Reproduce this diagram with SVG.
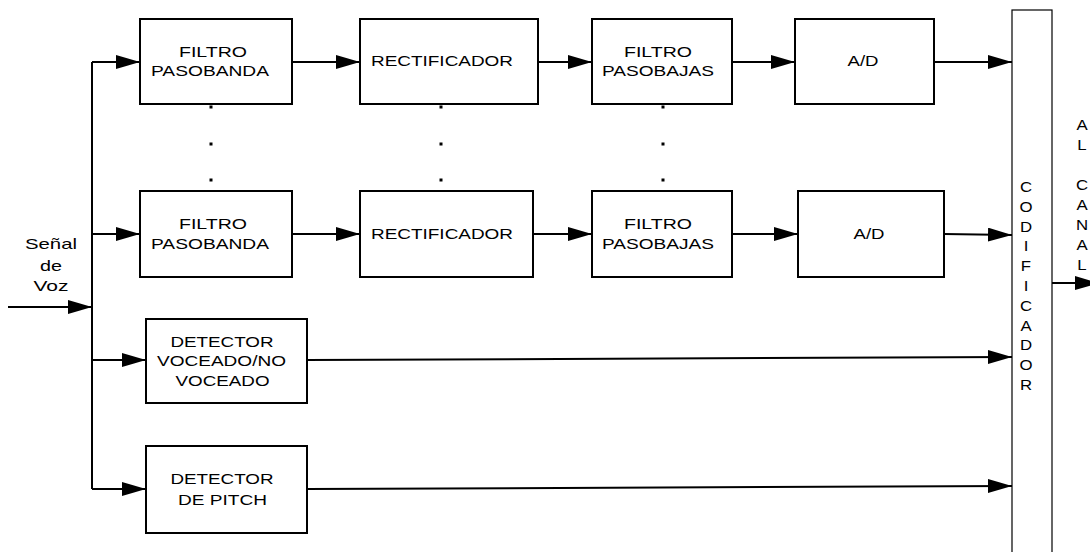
<svg xmlns="http://www.w3.org/2000/svg" width="1090" height="552" viewBox="0 0 1090 552">
  <style>
    .box { fill: #fff; stroke: #000; stroke-width: 2; }
    .thin { fill: #fff; stroke: #000; stroke-width: 1.2; }
    .wire { fill: none; stroke: #000; stroke-width: 2; }
    .lbl { font-family: "Liberation Sans", Arial, sans-serif; font-size: 15px; fill: #000; text-anchor: middle; }
    .vlbl { font-family: "Liberation Sans", Arial, sans-serif; font-size: 14px; fill: #000; text-anchor: middle; }
    .dot { fill: #000; }
  </style>
  <defs>
    <marker id="arrow" markerUnits="userSpaceOnUse" markerWidth="26" markerHeight="16" refX="24" refY="7" orient="auto">
      <polygon points="0,0 24,7 0,14" fill="#000"/>
    </marker>
  </defs>
  <rect width="1090" height="552" fill="#fff"/>

  <!-- connectors -->
  <g id="connectors" class="wire">
    <path d="M92 62 V489"/>
    <path d="M8 307 H92" marker-end="url(#arrow)"/>
    <path d="M92 62 H140" marker-end="url(#arrow)"/>
    <path d="M292 62 H360" marker-end="url(#arrow)"/>
    <path d="M538 62 H592" marker-end="url(#arrow)"/>
    <path d="M732 62 H795" marker-end="url(#arrow)"/>
    <path d="M934 62 H1012" marker-end="url(#arrow)"/>
    <path d="M92 234 H140" marker-end="url(#arrow)"/>
    <path d="M292 234 H360" marker-end="url(#arrow)"/>
    <path d="M533 234 H592" marker-end="url(#arrow)"/>
    <path d="M732 234 H798" marker-end="url(#arrow)"/>
    <path d="M944 234 L1012 235" marker-end="url(#arrow)"/>
    <path d="M92 360 H146" marker-end="url(#arrow)"/>
    <path d="M307 360 L1012 357" marker-end="url(#arrow)"/>
    <path d="M92 489 H146" marker-end="url(#arrow)"/>
    <path d="M307 489 L1012 486" marker-end="url(#arrow)"/>
    <path d="M1052 283 H1099" marker-end="url(#arrow)"/>
  </g>

  <!-- ellipsis between the two channel rows -->
  <g id="ellipsis" class="dot">
    <rect x="209.5" y="105.5" width="3" height="3"/>
    <rect x="209.5" y="142.5" width="3" height="3"/>
    <rect x="209.5" y="178.5" width="3" height="3"/>
    <rect x="439.5" y="105.5" width="3" height="3"/>
    <rect x="439.5" y="142.5" width="3" height="3"/>
    <rect x="439.5" y="178.5" width="3" height="3"/>
    <rect x="661.5" y="105.5" width="3" height="3"/>
    <rect x="661.5" y="142.5" width="3" height="3"/>
    <rect x="661.5" y="178.5" width="3" height="3"/>
  </g>

  <g id="input-label">
    <text class="lbl" x="51" y="249" textLength="52" lengthAdjust="spacingAndGlyphs">Señal</text>
    <text class="lbl" x="51" y="271" textLength="22" lengthAdjust="spacingAndGlyphs">de</text>
    <text class="lbl" x="51" y="291" textLength="35" lengthAdjust="spacingAndGlyphs">Voz</text>
  </g>

  <!-- first channel -->
  <g id="bpf1">
    <rect class="box" x="140" y="19" width="152" height="85"/>
    <text class="lbl" x="213" y="57" textLength="68" lengthAdjust="spacingAndGlyphs">FILTRO</text>
    <text class="lbl" x="210" y="76" textLength="118" lengthAdjust="spacingAndGlyphs">PASOBANDA</text>
  </g>
  <g id="rect1">
    <rect class="box" x="360" y="19" width="178" height="85"/>
    <text class="lbl" x="442" y="66" textLength="142" lengthAdjust="spacingAndGlyphs">RECTIFICADOR</text>
  </g>
  <g id="lpf1">
    <rect class="box" x="592" y="19" width="140" height="85"/>
    <text class="lbl" x="658" y="57" textLength="68" lengthAdjust="spacingAndGlyphs">FILTRO</text>
    <text class="lbl" x="658" y="76" textLength="112" lengthAdjust="spacingAndGlyphs">PASOBAJAS</text>
  </g>
  <g id="adc1">
    <rect class="box" x="795" y="19" width="139" height="85"/>
    <text class="lbl" x="863" y="66" textLength="31" lengthAdjust="spacingAndGlyphs">A/D</text>
  </g>

  <!-- last channel -->
  <g id="bpfN">
    <rect class="box" x="140" y="191" width="152" height="86"/>
    <text class="lbl" x="213" y="229" textLength="68" lengthAdjust="spacingAndGlyphs">FILTRO</text>
    <text class="lbl" x="210" y="249" textLength="118" lengthAdjust="spacingAndGlyphs">PASOBANDA</text>
  </g>
  <g id="rectN">
    <rect class="box" x="360" y="191" width="173" height="86"/>
    <text class="lbl" x="442" y="239" textLength="142" lengthAdjust="spacingAndGlyphs">RECTIFICADOR</text>
  </g>
  <g id="lpfN">
    <rect class="box" x="592" y="191" width="140" height="86"/>
    <text class="lbl" x="658" y="229" textLength="68" lengthAdjust="spacingAndGlyphs">FILTRO</text>
    <text class="lbl" x="658" y="249" textLength="112" lengthAdjust="spacingAndGlyphs">PASOBAJAS</text>
  </g>
  <g id="adcN">
    <rect class="box" x="798" y="191" width="146" height="86"/>
    <text class="lbl" x="869" y="239" textLength="31" lengthAdjust="spacingAndGlyphs">A/D</text>
  </g>

  <!-- excitation detectors -->
  <g id="voicing">
    <rect class="box" x="146" y="319" width="161" height="84"/>
    <text class="lbl" x="222" y="347" textLength="103" lengthAdjust="spacingAndGlyphs">DETECTOR</text>
    <text class="lbl" x="221.5" y="366" textLength="129" lengthAdjust="spacingAndGlyphs">VOCEADO/NO</text>
    <text class="lbl" x="222.5" y="386" textLength="94" lengthAdjust="spacingAndGlyphs">VOCEADO</text>
  </g>
  <g id="pitch">
    <rect class="box" x="146" y="446" width="161" height="87"/>
    <text class="lbl" x="222" y="484" textLength="103" lengthAdjust="spacingAndGlyphs">DETECTOR</text>
    <text class="lbl" x="222.5" y="505" textLength="89" lengthAdjust="spacingAndGlyphs">DE PITCH</text>
  </g>

  <!-- encoder column -->
  <g id="encoder">
    <rect class="thin" x="1012" y="10" width="40" height="560"/>
    <g transform="translate(1026 0) scale(1.2 1)">
      <text class="vlbl" x="0" y="192">C<tspan x="0" dy="19.8">O</tspan><tspan x="0" dy="19.8">D</tspan><tspan x="0" dy="19.8">I</tspan><tspan x="0" dy="19.8">F</tspan><tspan x="0" dy="19.8">I</tspan><tspan x="0" dy="19.8">C</tspan><tspan x="0" dy="19.8">A</tspan><tspan x="0" dy="19.8">D</tspan><tspan x="0" dy="19.8">O</tspan><tspan x="0" dy="19.8">R</tspan></text>
    </g>
  </g>

  <g id="output-label">
    <g transform="translate(1082 0) scale(1.2 1)">
      <text class="vlbl" x="0" y="130">A<tspan x="0" dy="20">L</tspan><tspan x="0" dy="40">C</tspan><tspan x="0" dy="20">A</tspan><tspan x="0" dy="20">N</tspan><tspan x="0" dy="20">A</tspan><tspan x="0" dy="20">L</tspan></text>
    </g>
  </g>
</svg>
